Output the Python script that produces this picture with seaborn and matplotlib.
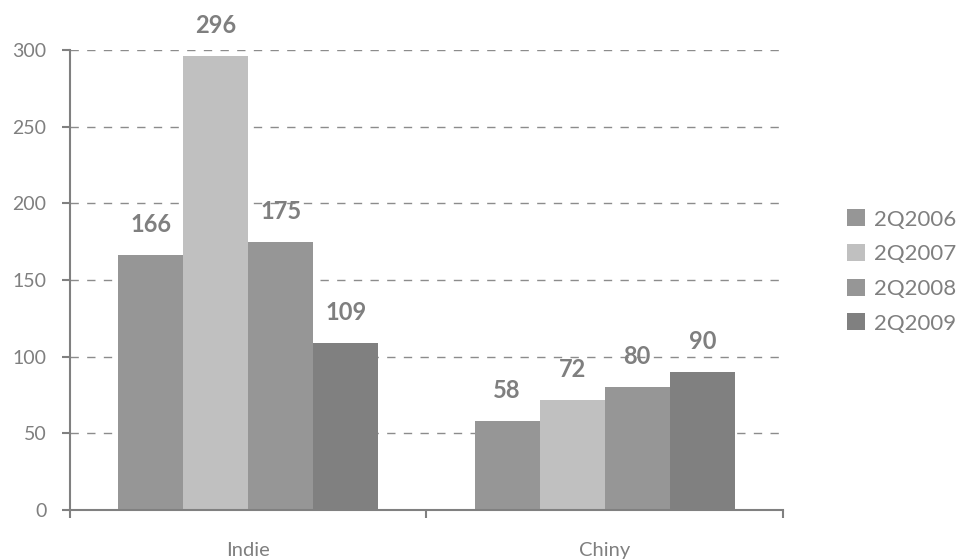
import matplotlib
matplotlib.use('Agg')
import matplotlib.pyplot as plt
import seaborn as sns
import pandas as pd
from matplotlib.ticker import FixedLocator, NullFormatter, FixedFormatter

categories = ['Indie', 'Chiny']
series = ['2Q2006', '2Q2007', '2Q2008', '2Q2009']
values_2006 = [166, 58]
values_2007 = [296, 72]
values_2008 = [175, 80]
values_2009 = [109, 90]
y_ticks = [0, 50, 100, 150, 200, 250, 300]
colors = ['#969696', '#c0c0c0', '#969696', '#808080']
text_color = '#7f7f7f'

rows = []
for s, vals in zip(series, [values_2006, values_2007, values_2008, values_2009]):
    for c, v in zip(categories, vals):
        rows.append(dict(kraj=c, okres=s, wartosc=v))
df = pd.DataFrame(rows)

sns.set_theme(style='white')
plt.rcParams['font.family'] = ['Lato', 'DejaVu Sans']

fig = plt.figure(figsize=(9.67, 5.6), dpi=100)
ax = fig.add_axes([0.0724, 0.0893, 0.7373, 0.8214])
sns.barplot(data=df, x='kraj', y='wartosc', hue='okres', order=categories,
            hue_order=series, palette=colors, width=0.73, saturation=1,
            errorbar=None, linewidth=0, ax=ax)

ax.set_xlim(-0.5, 1.5)
ax.set_ylim(0, 300)
ax.set_xlabel('')
ax.set_ylabel('')

# y axis
ax.yaxis.set_major_locator(FixedLocator(y_ticks))
ax.set_yticklabels([str(t) for t in y_ticks])
ax.yaxis.grid(True, linestyle=(0, (6, 6)), color='#8c8c8c', linewidth=1)
ax.set_axisbelow(True)

# x axis: major ticks at boundaries, labels at category centres
ax.xaxis.set_major_locator(FixedLocator([-0.5, 0.5, 1.5]))
ax.xaxis.set_major_formatter(NullFormatter())
ax.xaxis.set_minor_locator(FixedLocator([0, 1]))
ax.xaxis.set_minor_formatter(FixedFormatter(categories))
ax.tick_params(axis='x', which='major', direction='out', length=6, width=1.5,
               color='#808080', bottom=True)
ax.tick_params(axis='x', which='minor', length=0, pad=23, labelsize=14.5,
               labelcolor=text_color, bottom=True)
ax.tick_params(axis='y', which='major', direction='out', length=6, width=1.5,
               color='#808080', left=True, pad=11, labelsize=14,
               labelcolor=text_color)

for side in ['top', 'right']:
    ax.spines[side].set_visible(False)
for side in ['left', 'bottom']:
    ax.spines[side].set_color('#808080')
    ax.spines[side].set_linewidth(1.5)

# value labels
for container in ax.containers:
    for bar in container:
        h = bar.get_height()
        ax.annotate(f'{h:.0f}', (bar.get_x() + bar.get_width() / 2, h),
                    xytext=(0, 22), textcoords='offset points',
                    ha='center', va='center', fontsize=17, fontweight='bold',
                    color=text_color, annotation_clip=False)

# legend
handles, labels = ax.get_legend_handles_labels()
ax.get_legend().remove()
leg = fig.legend(handles, labels, loc='center left', bbox_to_anchor=(0.867, 0.515),
                 frameon=False, fontsize=16, labelcolor=text_color,
                 handlelength=0.8, handleheight=0.8, handletextpad=0.4,
                 labelspacing=0.65, borderaxespad=0)

fig.savefig('out.png', dpi=100)
